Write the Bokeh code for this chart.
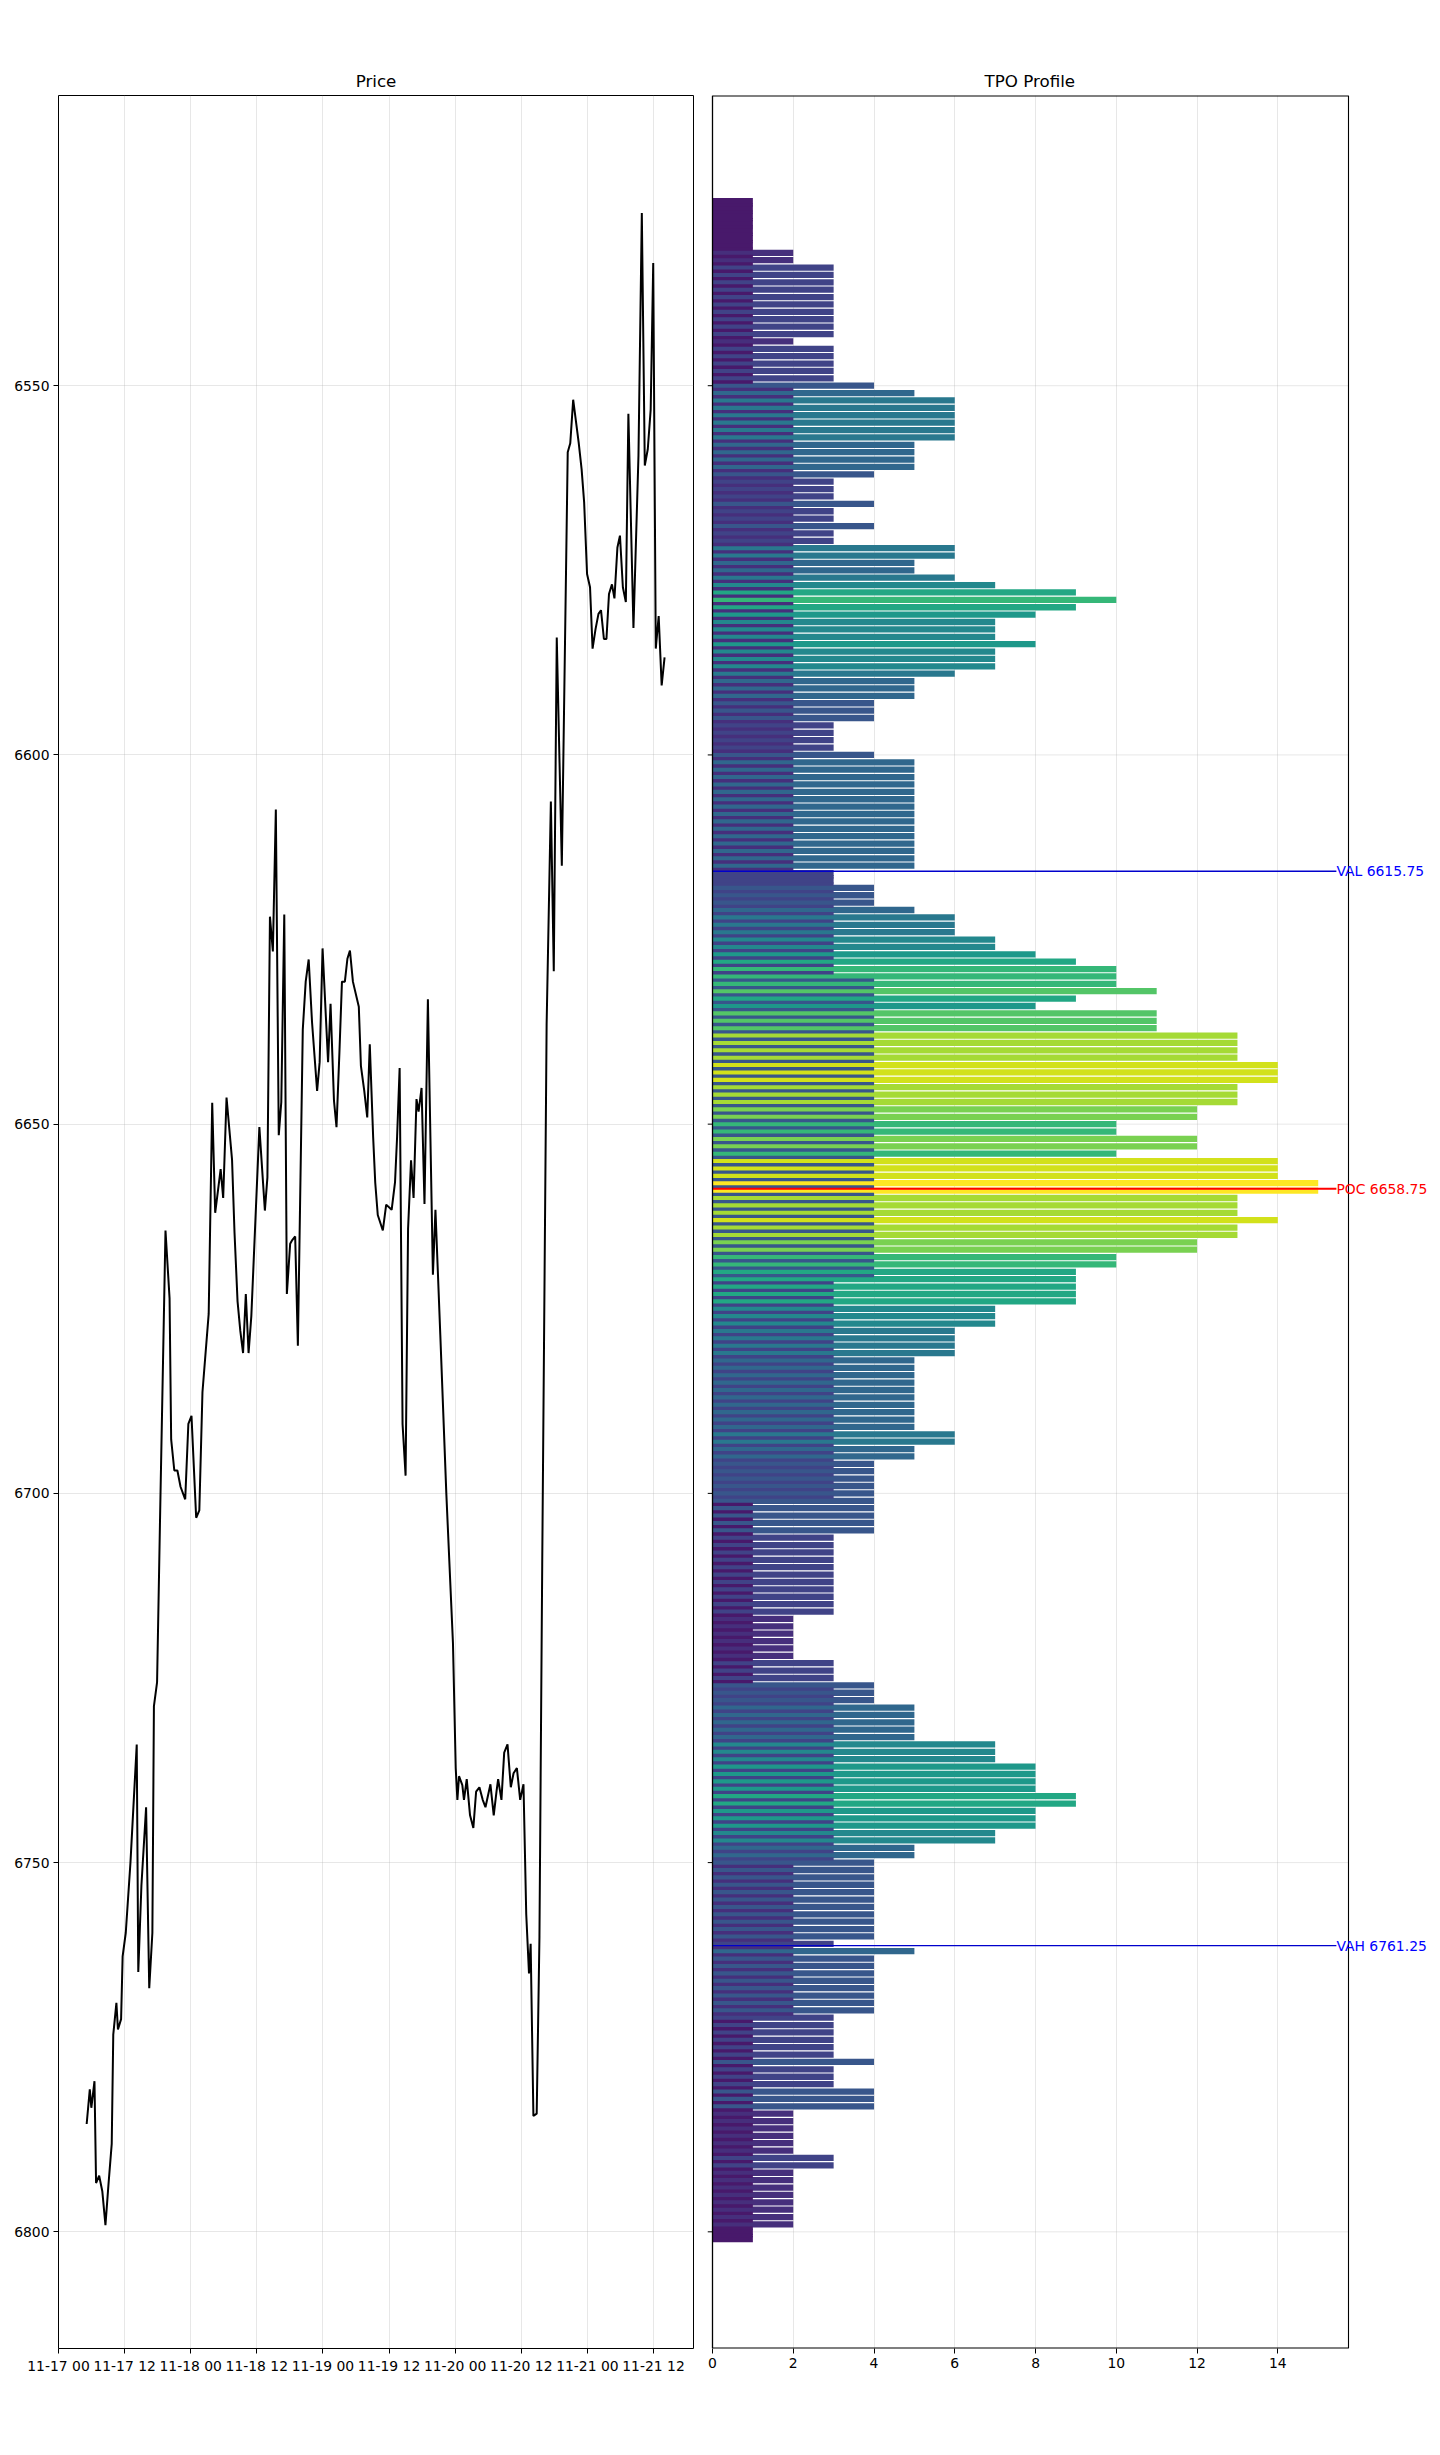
import numpy as np
import pandas as pd
from bokeh.plotting import figure
from bokeh.layouts import row
from bokeh.models import Range1d, FixedTicker, DatetimeTickFormatter, Label, ColumnDataSource
from bokeh.palettes import Viridis256
from bokeh.embed import file_html
from bokeh.resources import INLINE

# ---------------- data ----------------
start_time = pd.Timestamp("2025-11-17 00:00")

price_hours = [5.11, 5.68, 5.96, 6.53, 6.82, 7.38, 7.95, 8.52, 9.09, 9.66, 9.94, 10.51, 10.79, 11.36, 11.64,
               12.21, 13.06, 14.20, 14.48, 15.05, 15.90, 16.47, 17.04, 17.32, 17.89, 18.46, 19.42, 20.16,
               20.45, 21.02, 21.58, 22.15, 23.00, 23.57, 24.14, 24.99, 25.56, 26.13, 27.26, 27.90, 28.44,
               29.43, 29.89, 30.50, 31.50, 31.95, 32.50, 33.00, 33.50, 34.00, 34.50, 35.00, 36.46, 37.46,
               37.92, 38.38, 38.91, 39.45, 39.98, 40.44, 40.98, 41.45, 42.05, 42.43, 42.96, 43.45, 44.34,
               44.87, 45.41, 46.02, 46.94, 47.40, 47.93, 48.93, 49.38, 50.00, 50.46, 50.99, 51.45, 51.98,
               52.44, 52.90, 53.44, 54.51, 54.89, 55.50, 56.04, 56.50, 57.11, 57.49, 57.95, 58.87, 59.48,
               60.47, 61.08, 61.46, 61.92, 62.45, 63.00, 63.45, 63.99, 64.45, 64.98, 65.36, 65.90, 66.43,
               67.05, 67.96, 68.42, 69.30, 70.40, 71.60, 72.10, 72.40, 72.70, 73.30, 73.60, 74.10, 74.70,
               75.30, 75.80, 76.40, 77.00, 77.50, 78.40, 79.00, 79.50, 79.80, 80.40, 80.90, 81.50, 82.10,
               82.60, 83.20, 83.80, 84.40, 84.90, 85.40, 85.70, 86.20, 86.80, 87.30, 87.80, 88.60, 89.37,
               89.90, 90.44, 91.36, 92.43, 92.89, 93.42, 94.42, 94.95, 95.41, 95.94, 96.48, 96.94, 97.47,
               98.01, 98.47, 99.00, 99.46, 99.92, 100.46, 100.91, 101.45, 101.91, 102.44, 102.98, 103.44,
               104.36, 105.27, 105.88, 106.42, 106.96, 107.49, 107.95, 108.41, 108.94, 109.48, 110.01]

price_values = [6785.4, 6780.7, 6783.2, 6779.6, 6793.4, 6792.4, 6794.5, 6799.1, 6793.4, 6788.1, 6773.3,
                6769.0, 6772.6, 6771.2, 6762.7, 6759.5, 6750.0, 6734.0, 6764.8, 6753.1, 6742.5, 6767.0,
                6759.5, 6728.8, 6725.6, 6702.3, 6664.4, 6673.6, 6692.7, 6696.9, 6696.9, 6699.1, 6700.8,
                6690.6, 6689.5, 6703.3, 6702.3, 6686.3, 6675.7, 6647.1, 6662.0, 6656.1, 6660.0, 6646.4,
                6654.8, 6664.7, 6674.0, 6678.0, 6681.0, 6673.0, 6681.0, 6676.0, 6650.4, 6661.7, 6657.2,
                6621.9, 6626.6, 6607.4, 6651.5, 6647.0, 6621.6, 6673.0, 6666.2, 6665.7, 6665.2, 6680.0,
                6637.2, 6630.7, 6627.7, 6636.2, 6645.5, 6641.6, 6626.2, 6641.6, 6633.7, 6646.8, 6650.4,
                6640.3, 6630.7, 6630.7, 6627.6, 6626.5, 6630.7, 6634.1, 6642.1, 6645.5, 6649.1, 6639.2,
                6651.7, 6657.9, 6662.3, 6664.4, 6660.9, 6661.6, 6657.9, 6651.7, 6642.4, 6690.6, 6697.6,
                6664.2, 6654.9, 6660.0, 6646.6, 6648.3, 6645.1, 6660.8, 6633.1, 6670.4, 6661.6, 6678.5,
                6700.1, 6720.3, 6737.2, 6741.5, 6738.3, 6739.5, 6741.5, 6738.7, 6743.6, 6745.3, 6740.4,
                6739.8, 6741.5, 6742.5, 6739.4, 6743.6, 6740.4, 6738.7, 6741.5, 6735.1, 6734.0, 6739.8,
                6737.9, 6737.2, 6741.5, 6739.4, 6757.0, 6765.0, 6761.0, 6784.3, 6784.0, 6760.0, 6709.7,
                6636.5, 6606.3, 6629.3, 6584.1, 6615.0, 6559.0, 6557.8, 6551.9, 6557.7, 6561.3, 6565.8,
                6575.5, 6577.3, 6585.6, 6583.0, 6580.9, 6580.4, 6584.3, 6584.3, 6578.2, 6576.9, 6578.8,
                6571.9, 6570.3, 6577.3, 6579.3, 6553.8, 6582.8, 6559.5, 6526.6, 6560.8, 6558.6, 6553.2,
                6533.4, 6585.6, 6581.2, 6590.6, 6586.8]

x_tick_labels = ["11-17 00", "11-17 12", "11-18 00", "11-18 12", "11-19 00",
                 "11-19 12", "11-20 00", "11-20 12", "11-21 00", "11-21 12"]
y_ticks = [6550, 6600, 6650, 6700, 6750, 6800]
count_ticks = [0, 2, 4, 6, 8, 10, 12, 14]

# TPO profile: 1-point price levels from the top price downwards, as (count, number of levels)
tpo_top_price = 6525
tpo_runs = [(1, 7), (2, 2), (3, 10), (2, 1), (3, 5), (4, 1), (5, 1), (6, 6), (5, 4), (4, 1), (3, 3),
            (4, 1), (3, 2), (4, 1), (3, 2), (6, 2), (5, 2), (6, 1), (7, 1), (9, 1), (10, 1), (9, 1),
            (8, 1), (7, 3), (8, 1), (7, 3), (6, 1), (5, 3), (4, 3), (3, 4), (4, 1), (5, 15), (3, 2),
            (4, 3), (5, 1), (6, 3), (7, 2), (8, 1), (9, 1), (10, 3), (11, 1), (9, 1), (8, 1), (11, 3),
            (13, 4), (14, 3), (13, 3), (12, 2), (10, 2), (12, 2), (10, 1), (14, 3), (15, 2), (13, 3),
            (14, 1), (13, 2), (12, 2), (10, 2), (9, 5), (7, 3), (6, 4), (5, 10), (6, 2), (5, 2),
            (4, 10), (3, 11), (2, 6), (3, 3), (4, 3), (5, 5), (7, 3), (8, 4), (9, 2), (8, 3), (7, 2),
            (5, 2), (4, 11), (3, 1), (5, 1), (4, 8), (3, 6), (4, 1), (3, 3), (4, 3), (2, 6), (3, 2),
            (2, 8), (1, 2)]
# shorter in-between levels (half a point below each level) visible on the left of the rows
tpo_inner_runs = [(1, 25), (2, 66), (3, 14), (4, 41), (3, 30), (1, 25), (3, 24), (2, 21), (1, 30)]

val_price = 6615.75
poc_price = 6658.75
vah_price = 6761.25

# ---------------- build ----------------
FONT = "DejaVu Sans"
TICK_FS = "13.9px"
GRID_COLOR = "#b0b0b0"
GRID_ALPHA = 0.3

counts = np.repeat([c for c, n in tpo_runs], [n for c, n in tpo_runs])
levels = tpo_top_price + np.arange(len(counts))
inner = np.repeat([c for c, n in tpo_inner_runs], [n for c, n in tpo_inner_runs])
inner_levels = tpo_top_price + 0.5 + np.arange(len(inner))
max_count = int(counts.max())


def vcol(c):
    return Viridis256[int(round(c / max_count * 255))]


times = [start_time + pd.Timedelta(hours=h) for h in price_hours]

Y_BOTTOM, Y_TOP = 6815.8, 6510.7
y_range = Range1d(start=Y_BOTTOM, end=Y_TOP)

x_left = start_time
x_right = start_time + pd.Timedelta(hours=115.26)
tick_times = [start_time + pd.Timedelta(hours=12 * i) for i in range(len(x_tick_labels))]
tick_ms = [t.value / 1e6 for t in tick_times]


def style(p):
    p.background_fill_color = "white"
    p.border_fill_color = "white"
    p.title.text_font = FONT
    p.title.text_font_size = "16.7px"
    p.title.text_font_style = "normal"
    p.title.text_color = "black"
    for ax in p.axis:
        ax.axis_line_color = None
        ax.major_tick_line_color = "black"
        ax.major_tick_out = 5
        ax.major_tick_in = 0
        ax.minor_tick_line_color = None
        ax.major_label_text_font = FONT
        ax.major_label_text_font_size = TICK_FS
        ax.major_label_text_color = "black"
        ax.major_label_standoff = 4
    for g in p.grid:
        g.grid_line_color = GRID_COLOR
        g.grid_line_alpha = GRID_ALPHA
        g.grid_line_width = 1


H_TOP, FRAME_H, H_BOT = 95, 2253, 40
H = H_TOP + FRAME_H + H_BOT

# ---- price panel ----
p1 = figure(width=702, height=H, x_axis_type="datetime", output_backend="svg", toolbar_location=None,
            title="Price", x_range=Range1d(x_left, x_right), y_range=y_range,
            min_border_left=58, min_border_right=9, min_border_top=H_TOP, min_border_bottom=H_BOT)
p1.line(x=times, y=price_values, line_color="black", line_width=2)
p1.xaxis.ticker = FixedTicker(ticks=tick_ms)
fmt = "%m-%d %H"
p1.xaxis.formatter = DatetimeTickFormatter(microseconds=fmt, milliseconds=fmt, seconds=fmt, minsec=fmt,
                                           minutes=fmt, hourmin=fmt, hours=fmt, days=fmt, months=fmt,
                                           years=fmt, strip_leading_zeros=False)
p1.yaxis.ticker = FixedTicker(ticks=y_ticks)
p1.xgrid.ticker = FixedTicker(ticks=tick_ms)
p1.ygrid.ticker = FixedTicker(ticks=y_ticks)
style(p1)
p1.title.align = "center"
p1.outline_line_color = "black"
p1.outline_line_alpha = 1.0
p1.outline_line_width = 1

# ---- TPO panel ----
x_max = max_count * 1.05                  # visible box: 0 .. x_max
box_px = 636.0
ppu = box_px / x_max                      # pixels per count unit
tick_len_u = 5.0 / ppu
x_start = -tick_len_u
frame_w = 725
x_end = x_start + frame_w / ppu

p2 = figure(width=5 + frame_w, height=H, output_backend="svg", toolbar_location=None,
            title="TPO Profile", x_range=Range1d(x_start, x_end), y_range=y_range,
            y_axis_location=None,
            min_border_left=5, min_border_right=0, min_border_top=H_TOP, min_border_bottom=H_BOT)
p2.outline_line_color = None
style(p2)
p2.ygrid.grid_line_color = None
p2.ygrid.visible = False
p2.title.align = "left"
p2.title.offset = 277
p2.xaxis.ticker = FixedTicker(ticks=count_ticks)
p2.xgrid.ticker = FixedTicker(ticks=count_ticks)

# horizontal grid lines inside the box only
p2.segment(x0=[0] * len(y_ticks), y0=y_ticks, x1=[x_max] * len(y_ticks), y1=y_ticks,
           line_color=GRID_COLOR, line_alpha=GRID_ALPHA, line_width=1)

src = ColumnDataSource(dict(y=levels, right=counts, color=[vcol(c) for c in counts]))
p2.hbar(y="y", left=0, right="right", height=0.85, fill_color="color", fill_alpha=1.0,
        line_color=None, source=src)
src_in = ColumnDataSource(dict(y=inner_levels, right=inner, color=[vcol(c) for c in inner]))
p2.hbar(y="y", left=0, right="right", height=0.45, fill_color="color", fill_alpha=1.0,
        line_color=None, source=src_in)

line_end = 15.45
p2.segment(x0=[0, 0], y0=[val_price, vah_price], x1=[line_end, line_end], y1=[val_price, vah_price],
           line_color="#0000cc", line_width=1.3)
p2.segment(x0=[0], y0=[poc_price], x1=[line_end], y1=[poc_price], line_color="red", line_width=2.2)
for txt, yv, col in [(f"VAL {val_price}", val_price, "blue"),
                     (f"POC {poc_price}", poc_price, "red"),
                     (f"VAH {vah_price}", vah_price, "blue")]:
    p2.add_layout(Label(x=line_end, y=yv, text=txt, text_color=col, text_font=FONT,
                        text_font_size=TICK_FS, text_baseline="middle", text_align="left"))

# box around the profile area and the shared price ticks on its left side
p2.segment(x0=[0, x_max, 0, 0], y0=[Y_BOTTOM, Y_BOTTOM, Y_TOP, Y_BOTTOM],
           x1=[0, x_max, x_max, x_max], y1=[Y_TOP, Y_TOP, Y_TOP, Y_BOTTOM],
           line_color="black", line_width=[1.3, 1.1, 2.2, 2.2])
p2.segment(x0=[x_start] * len(y_ticks), y0=y_ticks, x1=[0] * len(y_ticks), y1=y_ticks,
           line_color="black", line_width=1)

layout = row(p1, p2)
open("out.html", "w").write(file_html(layout, INLINE))
